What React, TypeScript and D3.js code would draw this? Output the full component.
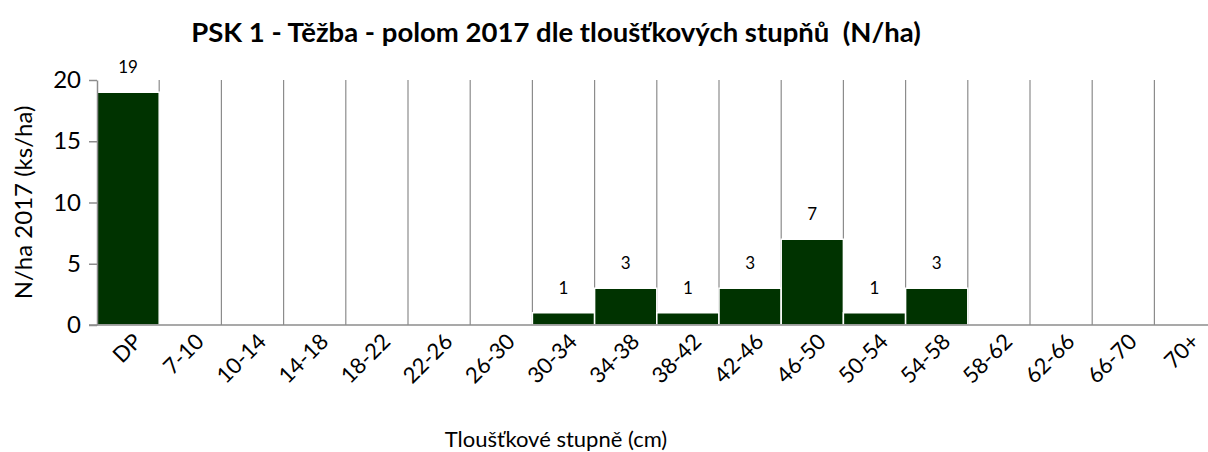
import React, { useEffect, useRef } from 'react';
import * as d3 from 'd3';

const categories = ['DP', '7-10', '10-14', '14-18', '18-22', '22-26', '26-30', '30-34', '34-38', '38-42', '42-46', '46-50', '50-54', '54-58', '58-62', '62-66', '66-70', '70+'];
const values = [19, 0, 0, 0, 0, 0, 0, 1, 3, 1, 3, 7, 1, 3, 0, 0, 0, 0];
const yTicks = [0, 5, 10, 15, 20];

const title = 'PSK 1 - Těžba - polom 2017 dle tloušťkových stupňů  (N/ha)';
const yTitle = 'N/ha 2017 (ks/ha)';
const xTitle = 'Tloušťkové stupně (cm)';

const font = 'Lato, "Open Sans", sans-serif';

const App: React.FC = () => {
    const svgRef = useRef<SVGSVGElement>(null);

    useEffect(() => {
        if (!svgRef.current) return;
        const svg = d3.select(svgRef.current);
        svg.selectAll('*').remove();

        const margin = { left: 97, top: 80, bottom: 325 };
        const band = 62.2;

        const x = d3.scaleBand<string>()
            .domain(categories)
            .range([margin.left, margin.left + band * categories.length])
            .padding(0);

        const y = d3.scaleLinear()
            .domain([0, 20])
            .range([margin.bottom, margin.top]);

        const data = categories.map((c, i) => ({ c, v: values[i] }));

        // vertical separators between categories
        svg.append('g')
            .selectAll('line')
            .data(categories.slice(1))
            .join('line')
            .attr('x1', d => x(d)!)
            .attr('x2', d => x(d)!)
            .attr('y1', y(20))
            .attr('y2', y(0))
            .attr('stroke', '#8c8c8c')
            .attr('stroke-width', 1.2);

        // bars
        svg.append('g')
            .selectAll('rect')
            .data(data.filter(d => d.v > 0))
            .join('rect')
            .attr('x', d => x(d.c)!)
            .attr('y', d => y(d.v))
            .attr('width', x.bandwidth())
            .attr('height', d => y(0) - y(d.v))
            .attr('fill', '#003300')
            .attr('stroke', '#ffffff')
            .attr('stroke-width', 1.5);

        // value labels
        svg.append('g')
            .selectAll('text')
            .data(data.filter(d => d.v > 0))
            .join('text')
            .attr('x', d => x(d.c)! + x.bandwidth() / 2)
            .attr('y', d => y(d.v) - 19)
            .attr('text-anchor', 'middle')
            .attr('font-family', font)
            .attr('font-size', 17)
            .attr('fill', '#000')
            .text(d => d.v);

        // y axis
        const yAxis = svg.append('g')
            .attr('transform', `translate(${margin.left},0)`)
            .call(d3.axisLeft(y).tickValues(yTicks).tickSize(8).tickSizeOuter(0));
        yAxis.select('.domain').attr('stroke', '#8c8c8c').attr('stroke-width', 1.5);
        yAxis.selectAll('line').attr('stroke', '#8c8c8c').attr('stroke-width', 1.5);
        yAxis.selectAll('text')
            .attr('font-family', font)
            .attr('font-size', 24)
            .attr('fill', '#000')
            .attr('x', -16);

        // x axis line
        svg.append('line')
            .attr('x1', margin.left - 8)
            .attr('x2', 1208)
            .attr('y1', y(0))
            .attr('y2', y(0))
            .attr('stroke', '#8c8c8c')
            .attr('stroke-width', 1.5);

        // x labels
        svg.append('g')
            .selectAll('text')
            .data(categories)
            .join('text')
            .attr('transform', d => `translate(${x(d)! + x.bandwidth() / 2 + 15},${y(0) + 18}) rotate(-45)`)
            .attr('text-anchor', 'end')
            .attr('font-family', font)
            .attr('font-size', 22)
            .attr('fill', '#000')
            .text(d => d);

        // titles
        svg.append('text')
            .attr('x', 556)
            .attr('y', 42)
            .attr('text-anchor', 'middle')
            .attr('font-family', font)
            .attr('font-weight', 'bold')
            .attr('font-size', 27.5)
            .attr('fill', '#000')
            .style('white-space', 'pre')
            .text(title);

        svg.append('text')
            .attr('transform', `translate(32,${(y(0) + y(20)) / 2}) rotate(-90)`)
            .attr('text-anchor', 'middle')
            .attr('font-family', font)
            .attr('font-size', 24)
            .attr('fill', '#000')
            .text(yTitle);

        svg.append('text')
            .attr('x', 556)
            .attr('y', 447)
            .attr('text-anchor', 'middle')
            .attr('font-family', font)
            .attr('font-size', 22)
            .attr('fill', '#000')
            .text(xTitle);
    }, []);

    return (
        <svg ref={svgRef} width={1208} height={452}
            style={{ position: 'absolute', left: 0, top: 0, background: '#fff' }} />
    );
};

export default App;
